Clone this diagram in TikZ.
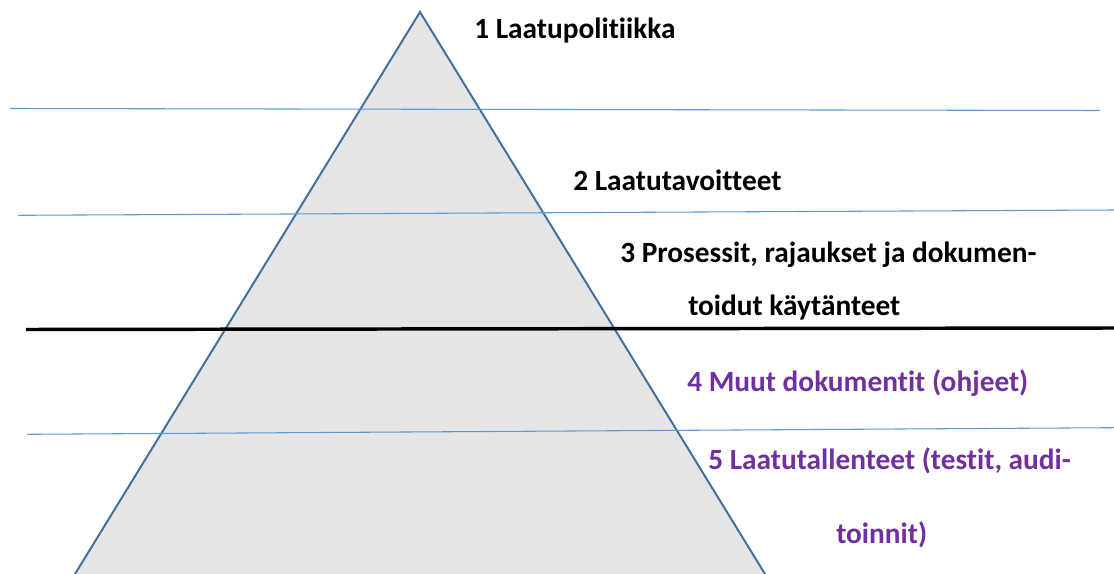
\documentclass[tikz,border=0pt]{standalone}
\usepackage{fontspec}
\setmainfont[Ligatures=NoCommon]{Carlito}
\usepackage{tikz}
\definecolor{pyrline}{RGB}{65,113,156}
\definecolor{pyrfill}{RGB}{229,229,229}
\definecolor{sepline}{RGB}{91,155,213}
\definecolor{lvlpurple}{RGB}{112,48,160}
\tikzset{
  sep/.style={color=sepline, line width=0.8pt},
  lvltext/.style={anchor=west, inner sep=0pt, font=\fontsize{22}{26}\selectfont\bfseries},
}

\begin{document}
\begin{tikzpicture}[x=0.75pt,y=0.75pt,yscale=-1,xscale=1]
\useasboundingbox (0,0) rectangle (1114,574);

%Shape: Triangle [id:tr1] 
\fill [color=pyrfill] (420,12) -- (765,574) -- (75,574) -- cycle ;
\draw [color=pyrline, line width=1.5pt, line join=miter] (75,574) -- (420,12) -- (765,574) ;

%Straight Lines [id:sl1] 
\draw [sep] (10,108.5) -- (1100,110.5) ;
%Straight Lines [id:sl2] 
\draw [sep] (18,215.3) -- (1114,210) ;
%Straight Lines [id:sl3] 
\draw [line width=2.6pt] (26,329.5) -- (1114,328) ;
%Straight Lines [id:sl4] 
\draw [sep] (27,434.3) -- (1114,427.7) ;

% level texts
\node [lvltext] (lvla) at (474,31) {1 Laatupolitiikka};
\node [lvltext] (lvlb) at (573,180) {2 Laatutavoitteet};
\node [lvltext] (lvlc) at (620,255) {3 Prosessit, rajaukset ja dokumen-};
\node [lvltext] (lvlcc) at (688,308) {toidut käytänteet};
\node [lvltext, color=lvlpurple] (lvld) at (687,383) {4 Muut dokumentit (ohjeet)};
\node [lvltext, color=lvlpurple] (lvle) at (708,461) {5 Laatutallenteet (testit, audi-};
\node [lvltext, color=lvlpurple] (lvlee) at (836,535) {toinnit)};

\end{tikzpicture}
\end{document}
